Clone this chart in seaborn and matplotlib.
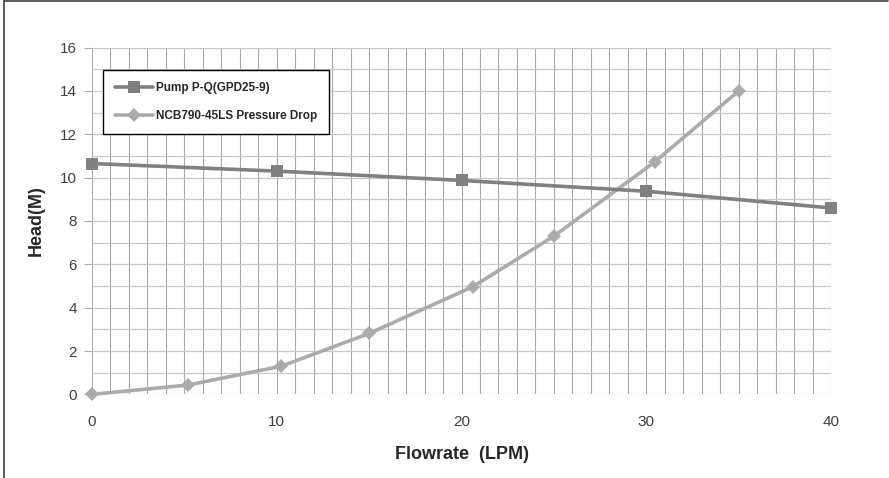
import pandas as pd
import matplotlib.pyplot as plt
import seaborn as sns
from matplotlib.lines import Line2D
from matplotlib.ticker import MultipleLocator, FuncFormatter

# Data
pump_flow = [0, 10, 20, 30, 40]
pump_head = [10.65, 10.3, 9.87, 9.37, 8.6]

drop_flow = [0, 5.2, 10.25, 15, 20.6, 25, 30.45, 35]
drop_head = [0, 0.43, 1.3, 2.81, 4.96, 7.3, 10.72, 14.0]

pump_label = "Pump P-Q(GPD25-9)"
drop_label = "NCB790-45LS Pressure Drop"

sns.set_style("white")
plt.rcParams['font.family'] = ['Liberation Sans', 'DejaVu Sans']

fig = plt.figure(figsize=(8.89, 4.78), dpi=100)
ax = fig.add_axes([0.1035, 0.175, 0.8313, 0.7255])

df_pump = pd.DataFrame({'flow': pump_flow, 'head': pump_head})
df_drop = pd.DataFrame({'flow': drop_flow, 'head': drop_head})

sns.lineplot(data=df_pump, x='flow', y='head', ax=ax, color='#808080',
             linewidth=2.6, marker='s', markersize=9, markeredgewidth=0,
             label=pump_label, clip_on=False, zorder=4)
sns.lineplot(data=df_drop, x='flow', y='head', ax=ax, color='#ababab',
             linewidth=2.6, marker='D', markersize=7.5, markeredgewidth=0,
             label=drop_label, clip_on=False, zorder=3)

ax.set_xlim(0, 40)
ax.set_ylim(0, 16)

# grid: vertical every 1, horizontal every 1
ax.xaxis.set_major_locator(MultipleLocator(5))
ax.xaxis.set_minor_locator(MultipleLocator(1))
ax.yaxis.set_major_locator(MultipleLocator(2))
ax.yaxis.set_minor_locator(MultipleLocator(1))
# only every other major x tick gets a label
ax.xaxis.set_major_formatter(FuncFormatter(lambda v, p: f"{v:.0f}" if round(v) % 10 == 0 else ""))
ax.grid(True, which='both', axis='x', color='#a8a8a8', linewidth=0.8)
ax.grid(True, which='both', axis='y', color='#c8c8c8', linewidth=0.9)
ax.set_axisbelow(True)

ax.tick_params(axis='both', which='major', length=6, width=0.8, color='#a8a8a8',
               labelsize=11, labelcolor='#404040')
ax.tick_params(axis='both', which='minor', length=0)
ax.tick_params(axis='x', pad=9)
ax.tick_params(axis='y', left=True, pad=5)

for s in ax.spines.values():
    s.set_visible(False)

ax.set_xlabel("Flowrate  (LPM)", fontsize=13, fontweight='bold', color='#262626', labelpad=12)
ax.set_ylabel("Head(M)", fontsize=13, fontweight='bold', color='#262626', labelpad=11)

leg = ax.legend(loc='upper left', bbox_to_anchor=(0.015, 0.935), borderaxespad=0,
                frameon=True, fancybox=False, edgecolor='black', framealpha=1,
                prop={'weight': 'bold', 'size': 8.5}, handlelength=3.2,
                borderpad=1.0, labelspacing=1.35, handletextpad=0.3)
leg.get_frame().set_linewidth(1.0)
for t in leg.get_texts():
    t.set_color('#262626')

# chart-area border (top and left visible)
fig.add_artist(Line2D([0.004, 0.999], [0.997, 0.997], color='#404040', linewidth=1.2,
                      transform=fig.transFigure))
fig.add_artist(Line2D([0.004, 0.004], [0.0, 0.997], color='#404040', linewidth=1.2,
                      transform=fig.transFigure))

fig.savefig("out.png", dpi=100)
